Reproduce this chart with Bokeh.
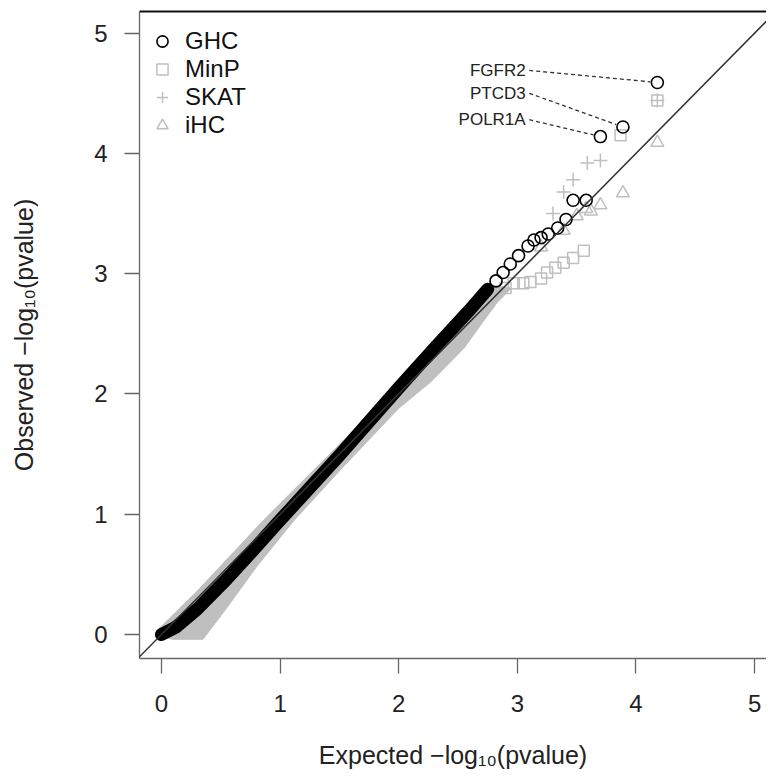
import math
from bokeh.plotting import figure
from bokeh.models import (Range1d, FixedTicker, LinearAxis, Slope, Legend, LegendItem)
from bokeh.core.properties import value
from bokeh.embed import file_html
from bokeh.resources import INLINE

# ---------------- data ----------------
tick_values = [0, 1, 2, 3, 4, 5]
series_names = ["GHC", "MinP", "SKAT", "iHC"]

# dense part of the GHC series (thousands of overlapping circles -> solid band)
ghc_band_x = [0.00, 0.12, 0.30, 0.55, 0.80, 1.00, 1.50, 2.00, 2.30, 2.60, 2.75]
ghc_band_y = [0.00, 0.06, 0.21, 0.46, 0.73, 0.95, 1.49, 2.05, 2.38, 2.70, 2.87]

# sparse GHC tail
ghc_x = [2.82, 2.88, 2.94, 3.01, 3.09, 3.14, 3.20, 3.26, 3.34, 3.41, 3.47, 3.58, 3.70, 3.89, 4.18]
ghc_y = [2.94, 3.01, 3.08, 3.15, 3.23, 3.28, 3.30, 3.33, 3.38, 3.45, 3.61, 3.61, 4.14, 4.22, 4.59]

# dense part of the three grey series (overlapping -> grey band outline)
grey_band_x = [-0.03, 0.30, 0.86, 1.50, 2.00, 2.50, 2.80, 2.95, 2.83, 2.71, 2.55, 2.27,
               2.00, 1.50, 1.11, 0.80, 0.55, 0.35, 0.10, -0.03]
grey_band_y = [0.04, 0.36, 0.95, 1.58, 2.08, 2.58, 2.90, 2.88, 2.76, 2.60, 2.38, 2.10,
               1.88, 1.36, 0.94, 0.56, 0.22, -0.04, -0.04, -0.02]

minp_x = [2.90, 2.97, 3.05, 3.11, 3.20, 3.25, 3.32, 3.39, 3.47, 3.56, 3.87, 4.18]
minp_y = [2.88, 2.92, 2.92, 2.93, 2.96, 3.01, 3.05, 3.09, 3.13, 3.19, 4.15, 4.44]

skat_x = [3.30, 3.39, 3.47, 3.59, 3.70, 4.18]
skat_y = [3.50, 3.68, 3.78, 3.92, 3.94, 4.44]

ihc_x = [3.20, 3.39, 3.50, 3.58, 3.62, 3.70, 3.89, 4.18]
ihc_y = [3.22, 3.36, 3.48, 3.54, 3.52, 3.57, 3.67, 4.09]

# labelled genes (GHC points) and label rows
gene_names = ["FGFR2", "PTCD3", "POLR1A"]
gene_x = [4.18, 3.89, 3.70]
gene_y = [4.59, 4.22, 4.14]
gene_label_y = [4.69, 4.50, 4.28]

# ---------------- styling ----------------
FONT = "Liberation Sans"
GREY = "#bfbfbf"
X0, X1 = -0.185, 5.10
Y0, Y1 = -0.2, 5.18

p = figure(width=766, height=771,
           x_range=Range1d(X0, X1), y_range=Range1d(Y0, Y1),
           output_backend="svg", toolbar_location=None,
           min_border_left=139, min_border_top=11, min_border_right=0, min_border_bottom=10,
           x_axis_label="Expected \u2212log\u2081\u2080(pvalue)",
           y_axis_label="Observed \u2212log\u2081\u2080(pvalue)")
p.outline_line_color = None
p.grid.visible = False
p.background_fill_color = "white"

for ax in (p.xaxis[0], p.yaxis[0]):
    ax.ticker = FixedTicker(ticks=tick_values)
    ax.major_tick_out = 15
    ax.major_tick_in = 0
    ax.minor_tick_out = 0
    ax.minor_tick_in = 0
    ax.axis_line_color = "#666666"
    ax.axis_line_width = 1.3
    ax.major_tick_line_color = "#666666"
    ax.major_tick_line_width = 1.3
    ax.major_label_text_font = FONT
    ax.major_label_text_font_size = "24px"
    ax.major_label_text_color = "#222222"
    ax.axis_label_text_font = FONT
    ax.axis_label_text_font_size = "25px"
    ax.axis_label_text_font_style = "normal"
    ax.axis_label_text_color = "#222222"

p.xaxis[0].major_label_standoff = 21
p.xaxis[0].axis_label_standoff = 26
p.yaxis[0].major_label_standoff = 17
p.yaxis[0].axis_label_standoff = 53

# top border of the box (right border is outside the reference crop)
top = LinearAxis(ticker=FixedTicker(ticks=[]), major_tick_out=0, major_tick_in=0,
                 minor_tick_out=0, minor_tick_in=0, major_label_text_font_size="0px",
                 axis_line_color="#111111", axis_line_width=2)
p.add_layout(top, "above")

# grey band (dense overlap of MinP / SKAT / iHC)
p.patch(grey_band_x, grey_band_y, fill_color=GREY, line_color=GREY, line_width=1)

r_minp = p.scatter(minp_x, minp_y, marker="square", size=11, fill_color=None,
                   line_color=GREY, line_width=1.5)
r_skat = p.scatter(skat_x, skat_y, marker="cross", size=14, line_color=GREY, line_width=1.5)
r_ihc = p.scatter(ihc_x, ihc_y, marker="triangle", size=13, fill_color=None,
                  line_color=GREY, line_width=1.5)

# GHC dense band + sparse circles
p.line(ghc_band_x, ghc_band_y, line_width=13, line_color="black",
       line_cap="round", line_join="round")
r_ghc = p.scatter(ghc_x, ghc_y, marker="circle", size=12, fill_color=None,
                  line_color="black", line_width=1.6)

# diagonal reference line
p.add_layout(Slope(gradient=1, y_intercept=0, line_color="#333333", line_width=1.5))

# gene labels with dashed leaders
PX_X = 118.6  # px per unit in x
PX_Y = 120.0  # px per unit in y
label_right = 3.07
lead_start = 3.10
sx0, sy0, sx1, sy1 = [], [], [], []
for gx, gy, ly in zip(gene_x, gene_y, gene_label_y):
    dxp = (gx - lead_start) * PX_X
    dyp = (gy - ly) * PX_Y
    L = math.hypot(dxp, dyp)
    r = 7.0
    sx0.append(lead_start)
    sy0.append(ly)
    sx1.append(gx - dxp / L * r / PX_X)
    sy1.append(gy - dyp / L * r / PX_Y)
p.segment(sx0, sy0, sx1, sy1, line_color="#333333", line_width=1.3, line_dash="4 3")
p.text([label_right] * len(gene_names), gene_label_y, text=gene_names,
       text_align="right", text_baseline="middle", text_color="#222222",
       text_font=value(FONT), text_font_size="17px")

legend = Legend(items=[LegendItem(label=series_names[0], renderers=[r_ghc]),
                       LegendItem(label=series_names[1], renderers=[r_minp]),
                       LegendItem(label=series_names[2], renderers=[r_skat]),
                       LegendItem(label=series_names[3], renderers=[r_ihc])],
                location=(9, 519), glyph_width=28, glyph_height=28, spacing=0,
                padding=0, margin=0, label_standoff=9,
                label_text_font=FONT, label_text_font_size="24px",
                label_text_color="#111111", border_line_color=None,
                background_fill_alpha=0)
p.add_layout(legend)

open("out.html", "w").write(file_html(p, INLINE))
